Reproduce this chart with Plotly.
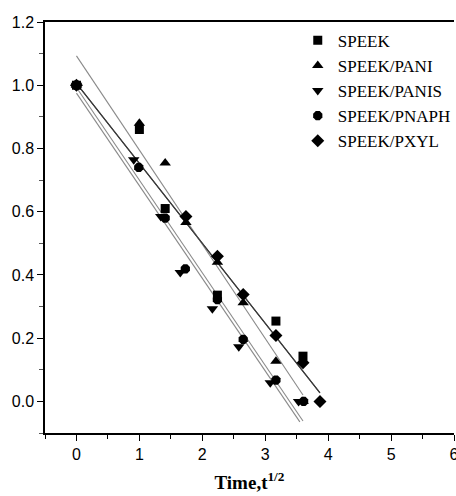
import plotly.graph_objects as go

# ---- data ----
names = ["SPEEK", "SPEEK/PANI", "SPEEK/PANIS", "SPEEK/PNAPH", "SPEEK/PXYL"]

speek_x = [0, 1.0, 1.41, 2.24, 3.17, 3.6]
speek_y = [1.0, 0.86, 0.61, 0.336, 0.254, 0.143]

pani_x = [0, 1.0, 1.41, 1.74, 2.24, 2.65, 3.17, 3.6]
pani_y = [1.0, 0.88, 0.754, 0.566, 0.44, 0.312, 0.127, 0.0]

panis_x = [0, 0.91, 1.34, 1.65, 2.16, 2.58, 3.08, 3.53]
panis_y = [1.0, 0.764, 0.585, 0.408, 0.293, 0.173, 0.059, 0.0]

pnaph_x = [0, 0.99, 1.41, 1.73, 2.24, 2.65, 3.17, 3.61]
pnaph_y = [1.0, 0.74, 0.58, 0.419, 0.322, 0.196, 0.067, 0.0]

pxyl_x = [0, 1.74, 2.24, 2.65, 3.17, 3.6, 3.87]
pxyl_y = [1.0, 0.585, 0.459, 0.338, 0.208, 0.122, 0.0]

# linear-fit lines (end points)
fit_x0 = [0.0, 0.0, 0.0, 0.0, 0.0]
fit_x1 = [3.87, 3.6, 3.55, 3.6, 3.87]
fit_y0 = [1.006, 1.093, 0.975, 0.993, 1.006]
fit_y1 = [0.027, 0.02, -0.065, -0.062, 0.027]
fit_colors = ["#3a3a3a", "#8a8a8a", "#8a8a8a", "#8a8a8a", "#3a3a3a"]

x_ticks = [0, 1, 2, 3, 4, 5, 6]
y_ticks = [0.0, 0.2, 0.4, 0.6, 0.8, 1.0, 1.2]

series_x = [speek_x, pani_x, panis_x, pnaph_x, pxyl_x]
series_y = [speek_y, pani_y, panis_y, pnaph_y, pxyl_y]
symbols = ["square", "triangle-up", "triangle-down", "octagon", "diamond"]
sizes = [9, 10, 10, 10, 10]

fig = go.Figure()

for i in range(5):
    fig.add_trace(go.Scatter(
        x=[fit_x0[i], fit_x1[i]], y=[fit_y0[i], fit_y1[i]],
        mode="lines", line=dict(color=fit_colors[i], width=1.1),
        showlegend=False, hoverinfo="skip"))

for i in range(5):
    fig.add_trace(go.Scatter(
        x=series_x[i], y=series_y[i], mode="markers", name=names[i],
        legendgroup=names[i],
        marker=dict(symbol=symbols[i], size=sizes[i], color="black",
                    line=dict(width=0))))

tick_font = dict(family="Liberation Sans, Arial, sans-serif", size=16, color="black")

fig.update_layout(
    width=456, height=496,
    margin=dict(l=45, r=0, t=22, b=63),
    paper_bgcolor="white", plot_bgcolor="white",
    showlegend=True,
    legend=dict(x=0.618, y=0.998, xanchor="left", yanchor="top",
                font=dict(family="Liberation Serif, Times New Roman, serif", size=17, color="black"),
                bgcolor="rgba(0,0,0,0)", tracegroupgap=0, itemwidth=30),
    xaxis=dict(range=[-0.5, 6.0], tickvals=x_ticks, ticktext=[str(v) for v in x_ticks],
               ticks="outside", ticklen=6, tickwidth=1.2, tickcolor="black",
               ticklabeloverflow="allow", automargin=False,
               minor=dict(dtick=0.5, tick0=0, ticks="outside", ticklen=4, tickwidth=1.2, tickcolor="black"),
               showline=True, linecolor="black", linewidth=1.5, mirror=True,
               showgrid=False, zeroline=False, tickfont=tick_font,
               title=dict(text="<b>Time,t<sup>1/2</sup></b>",
                          font=dict(family="Liberation Serif, Times New Roman, serif", size=19, color="black"),
                          standoff=14)),
    yaxis=dict(range=[-0.1, 1.2], tickvals=y_ticks, ticktext=["%.1f" % v for v in y_ticks],
               ticks="outside", ticklen=6, tickwidth=1.2, tickcolor="black",
               automargin=False,
               minor=dict(dtick=0.1, tick0=0, ticks="outside", ticklen=4, tickwidth=1.0, tickcolor="#555"),
               showline=True, linecolor="black", linewidth=1.5, mirror=False,
               showgrid=False, zeroline=False, tickfont=tick_font),
)

fig.write_html("out.html")
